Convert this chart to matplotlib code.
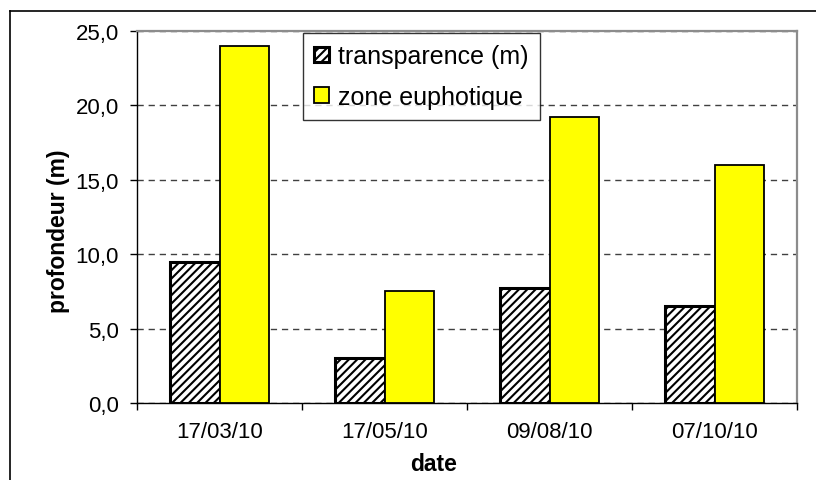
import matplotlib.pyplot as plt
import numpy as np
from matplotlib.lines import Line2D

plt.rcParams['font.family'] = ['Liberation Sans', 'DejaVu Sans']
plt.rcParams['hatch.linewidth'] = 1.5

# data
dates = ['17/03/10', '17/05/10', '09/08/10', '07/10/10']
transparence = [9.5, 3.0, 7.7, 6.5]
zone_euphotique = [24.0, 7.5, 19.2, 16.0]
y_ticks = [0, 5, 10, 15, 20, 25]

W, H = 816, 481
fig = plt.figure(figsize=(W / 100, H / 100), dpi=100)

# plot area in pixels: x 137..797, y 32..404
ax = fig.add_axes([137 / W, 1 - 404 / H, 660 / W, 372 / H])

x = np.arange(len(dates))
bw = 0.3
ax.bar(x - bw / 2, transparence, bw, color='white', edgecolor='black',
       hatch='////', linewidth=2.2, label='transparence (m)', zorder=3)
ax.bar(x + bw / 2, zone_euphotique, bw, color='#ffff00', edgecolor='black',
       linewidth=1.3, label='zone euphotique', zorder=3)

ax.set_xlim(-0.5, len(dates) - 0.5)
ax.set_ylim(0, 25)
ax.set_yticks(y_ticks)
ax.set_yticklabels([f'{v:.1f}'.replace('.', ',') for v in y_ticks], fontsize=16)
ax.tick_params(axis='y', direction='out', length=5, width=1, pad=8)

# tick marks between categories, labels at category centres
ax.set_xticks(np.arange(-0.5, len(dates)), minor=False)
ax.set_xticklabels([])
ax.set_xticks(x, minor=True)
ax.set_xticklabels(dates, minor=True, fontsize=16)
ax.tick_params(axis='x', which='major', direction='out', length=5, width=1)
ax.tick_params(axis='x', which='minor', length=0, pad=13)

ax.set_axisbelow(True)
ax.yaxis.grid(True, linestyle=(0, (4.5, 3.5)), color='#404040', linewidth=1)

for side in ['top', 'right']:
    ax.spines[side].set_color('#8c8c8c')
    ax.spines[side].set_linewidth(1.6)
for side in ['left', 'bottom']:
    ax.spines[side].set_color('black')
    ax.spines[side].set_linewidth(1)

fig.text(58 / W, 1 - 231 / H, 'profondeur (m)', rotation=90, ha='center',
         va='center', fontsize=16.5, fontweight='bold')
fig.text(434 / W, 1 - 465 / H, 'date', ha='center', va='center',
         fontsize=16.5, fontweight='bold')

leg = fig.legend(loc='upper left', bbox_to_anchor=(303 / W, 1 - 34 / H),
                 bbox_transform=fig.transFigure, borderaxespad=0,
                 fontsize=18, frameon=True, fancybox=False, shadow=False,
                 handlelength=0.6, handleheight=0.6, handletextpad=0.35,
                 labelspacing=0.65, borderpad=0.45)
leg.get_frame().set_edgecolor('black')
leg.get_frame().set_linewidth(1)

# outer chart frame
fig.add_artist(Line2D([10 / W, 10 / W], [0, 1 - 12 / H], color='black',
                      linewidth=1.2, transform=fig.transFigure))
fig.add_artist(Line2D([10 / W, 1], [1 - 12 / H, 1 - 12 / H], color='black',
                      linewidth=1.2, transform=fig.transFigure))

fig.savefig('out.png', dpi=100)
